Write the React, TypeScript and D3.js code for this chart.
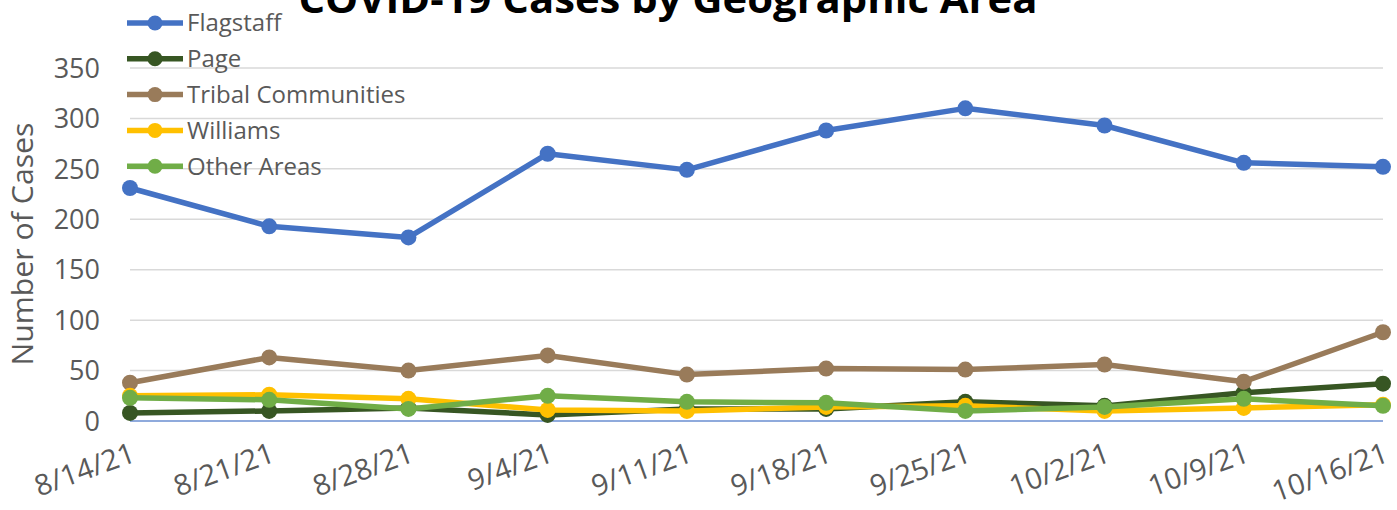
import React from "react";
import * as d3 from "d3";

const dates = ["8/14/21", "8/21/21", "8/28/21", "9/4/21", "9/11/21", "9/18/21", "9/25/21", "10/2/21", "10/9/21", "10/16/21"];
const flagstaff = [231, 193, 182, 265, 249, 288, 310, 293, 256, 252];
const page = [8, 10, 13, 6, 12, 12, 19, 15, 28, 37];
const tribal = [38, 63, 50, 65, 46, 52, 51, 56, 39, 88];
const williams = [25, 26, 22, 11, 10, 14, 15, 10, 13, 16];
const otherAreas = [23, 21, 12, 25, 19, 18, 10, 14, 22, 15];
const yTicks = [0, 50, 100, 150, 200, 250, 300, 350];

const series = [
  { name: "Flagstaff", values: flagstaff, color: "#4472C4" },
  { name: "Page", values: page, color: "#375623" },
  { name: "Tribal Communities", values: tribal, color: "#997B5A" },
  { name: "Williams", values: williams, color: "#FFC000" },
  { name: "Other Areas", values: otherAreas, color: "#70AD47" },
];

export default function App() {
  const W = 1397, H = 510;
  const left = 130, right = 1383, top = 68, bottom = 421;
  const x = d3.scalePoint<string>().domain(dates).range([left, right]);
  const y = d3.scaleLinear().domain([0, 350]).range([bottom, top]);
  const line = d3.line<number>().x((_, i) => x(dates[i])!).y((v) => y(v));
  const font = "'Open Sans', Calibri, sans-serif";
  const txt = "#595959";

  return (
    <svg width={W} height={H} style={{ position: "absolute", left: 0, top: 0 }} fontFamily={font}>
      <rect width={W} height={H} fill="#fff" />
      {yTicks.map((t) => (
        <g key={t}>
          {t > 0 && <line x1={left} x2={right} y1={y(t)} y2={y(t)} stroke="#D9D9D9" strokeWidth={1.5} />}
          <text x={100} y={y(t)} dy="0.36em" textAnchor="end" fontSize={27} fill={txt}>{t}</text>
        </g>
      ))}
      <line x1={left} x2={right} y1={y(0)} y2={y(0)} stroke="#8FAADC" strokeWidth={2} />
      <text transform={`translate(33,244) rotate(-90)`} textAnchor="middle" fontSize={30} fill={txt} textLength={243} lengthAdjust="spacingAndGlyphs">Number of Cases</text>
      {dates.map((d) => (
        <text key={d} transform={`translate(${x(d)! + 7},461) rotate(-20)`} textAnchor="end" fontSize={29} fill={txt}>{d}</text>
      ))}
      {series.map((s) => (
        <g key={s.name}>
          <path d={line(s.values)!} fill="none" stroke={s.color} strokeWidth={5.5} strokeLinejoin="round" />
          {s.values.map((v, i) => (
            <circle key={i} cx={x(dates[i])!} cy={y(v)} r={8} fill={s.color} />
          ))}
        </g>
      ))}
      <text x={668} y={13} textAnchor="middle" fontSize={40} fontWeight="bold" fill="#000" textLength={739} lengthAdjust="spacingAndGlyphs">COVID-19 Cases by Geographic Area</text>
      {series.map((s, i) => {
        const ly = 23 + i * 35.8;
        return (
          <g key={s.name}>
            <line x1={127} x2={183} y1={ly} y2={ly} stroke={s.color} strokeWidth={5.5} />
            <circle cx={155} cy={ly} r={7.5} fill={s.color} />
            <text x={187} y={ly} dy="0.35em" fontSize={24} fill={txt}>{s.name}</text>
          </g>
        );
      })}
    </svg>
  );
}
